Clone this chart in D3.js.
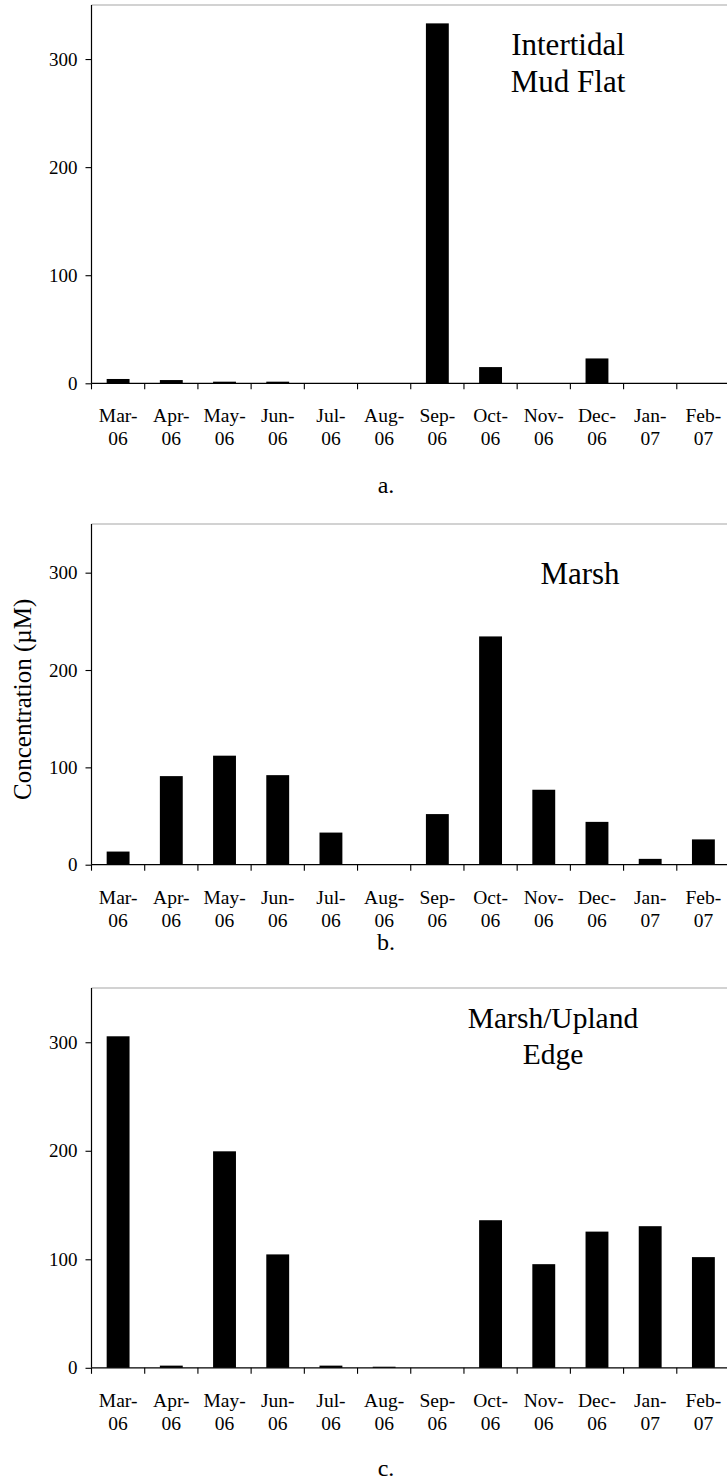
<!DOCTYPE html>
<html>
<head>
<meta charset="utf-8">
<script src="https://cdn.jsdelivr.net/npm/d3@7"></script>
<style>
  html, body { margin: 0; padding: 0; background: #fff; }
  svg { display: block; }
  svg text { font-family: "Liberation Serif", "Times New Roman", serif !important; fill: #000; }
</style>
</head>
<body>
<svg id="chart" width="727" height="1483"></svg>
<script>
// Monthly sampling, March 2006 – February 2007
const monthNames = ["Mar-", "Apr-", "May-", "Jun-", "Jul-", "Aug-", "Sep-", "Oct-", "Nov-", "Dec-", "Jan-", "Feb-"];
const yearNames  = ["06", "06", "06", "06", "06", "06", "06", "06", "06", "06", "07", "07"];

// Concentration (µM) per site
const mudFlatValues = [4, 3, 1.5, 1.5, 0, 0, 333, 15, 0, 23, 0, 0];
const marshValues   = [13.5, 91, 112, 92, 33, 0, 52, 234.5, 77, 44, 6, 26];
const edgeValues    = [305.5, 2, 199.5, 104.5, 2, 1, 0, 136, 95.5, 125.5, 130.5, 102];

const yTickValues = [0, 100, 200, 300];
const yMax = 350;

const titleMudFlat = ["Intertidal", "Mud Flat"];
const titleMarsh   = ["Marsh"];
const titleEdge    = ["Marsh/Upland", "Edge"];
const captions     = ["a.", "b.", "c."];
const yAxisTitle   = "Concentration (µM)";

const svg = d3.select("#chart");
const keys = monthNames.map((m, i) => i);

const x = d3.scaleBand()
  .domain(keys)
  .range([91.5, 730])
  .paddingInner(0.57)
  .paddingOuter(0.285);

const panels = [
  { values: mudFlatValues, title: titleMudFlat, caption: captions[0], top: 5,   zero: 383.3, titleX: 568, titleY: 50, titleGap: 36.5, titleSize: 31,   capY: 493 },
  { values: marshValues,   title: titleMarsh,   caption: captions[1], top: 524, zero: 864.7, titleX: 580, titleY: 60, titleGap: 36.5, titleSize: 31,   capY: 950, yLabel: true },
  { values: edgeValues,    title: titleEdge,    caption: captions[2], top: 988, zero: 1367.8, titleX: 553, titleY: 40, titleGap: 36, titleSize: 29.5, capY: 1476 }
];

panels.forEach(p => {
  const g = svg.append("g");
  const y = d3.scaleLinear().domain([0, yMax]).range([p.zero, p.top]);
  const [x0] = x.range();

  // plot-area top border
  g.append("line")
    .attr("x1", x0).attr("x2", 727)
    .attr("y1", y(yMax)).attr("y2", y(yMax))
    .attr("stroke", "#a6a6a6").attr("stroke-width", 1.2);

  // bars
  g.selectAll("rect.bar")
    .data(p.values)
    .join("rect")
    .attr("class", "bar")
    .attr("x", (d, i) => x(i))
    .attr("width", x.bandwidth())
    .attr("y", d => y(d))
    .attr("height", d => y(0) - y(d))
    .attr("fill", "#000");

  // y axis
  const yAxis = d3.axisLeft(y)
    .tickValues(yTickValues)
    .tickSize(6)
    .tickPadding(8)
    .tickFormat(d3.format("d"));
  const ya = g.append("g")
    .attr("transform", `translate(${x0},0)`)
    .call(yAxis);
  ya.attr("font-family", null);
  ya.select(".domain").remove();
  ya.append("line")
    .attr("x1", 0).attr("x2", 0)
    .attr("y1", y(yMax)).attr("y2", y(0))
    .attr("stroke", "#000").attr("stroke-width", 1.2);
  ya.selectAll(".tick line").attr("stroke", "#000").attr("stroke-width", 1.1);
  ya.selectAll(".tick text")
    .attr("font-size", 19)
    .attr("fill", "#000");

  // x axis baseline
  g.append("line")
    .attr("x1", x0).attr("x2", 727)
    .attr("y1", y(0)).attr("y2", y(0))
    .attr("stroke", "#000").attr("stroke-width", 1.2);

  // x tick marks at category boundaries
  const step = x.step();
  const boundaries = keys.map(k => x(k) + x.bandwidth() / 2 - step / 2);
  g.selectAll("line.xtick")
    .data(boundaries)
    .join("line")
    .attr("class", "xtick")
    .attr("x1", d => d).attr("x2", d => d)
    .attr("y1", y(0)).attr("y2", y(0) + 6)
    .attr("stroke", "#000").attr("stroke-width", 1.1);

  // x category labels (two lines)
  const lbl = g.selectAll("text.xlab")
    .data(keys)
    .join("text")
    .attr("class", "xlab")
    .attr("text-anchor", "middle")
    .attr("font-size", 19.5);
  lbl.append("tspan")
    .attr("x", k => x(k) + x.bandwidth() / 2)
    .attr("y", y(0) + 39)
    .text(k => monthNames[k]);
  lbl.append("tspan")
    .attr("x", k => x(k) + x.bandwidth() / 2)
    .attr("y", y(0) + 62)
    .text(k => yearNames[k]);

  // site title
  g.selectAll("text.title")
    .data(p.title)
    .join("text")
    .attr("class", "title")
    .attr("text-anchor", "middle")
    .attr("x", p.titleX)
    .attr("y", (d, i) => p.top + p.titleY + i * p.titleGap)
    .attr("font-size", p.titleSize)
    .text(d => d);

  // panel caption
  g.append("text")
    .attr("x", 386)
    .attr("y", p.capY)
    .attr("text-anchor", "middle")
    .attr("font-size", 24)
    .text(p.caption);

  if (p.yLabel) {
    g.append("text")
      .attr("transform", `translate(31, ${(p.top + p.zero) / 2 + 5}) rotate(-90)`)
      .attr("text-anchor", "middle")
      .attr("font-size", 25)
      .text(yAxisTitle);
  }
});
</script>
</body>
</html>
